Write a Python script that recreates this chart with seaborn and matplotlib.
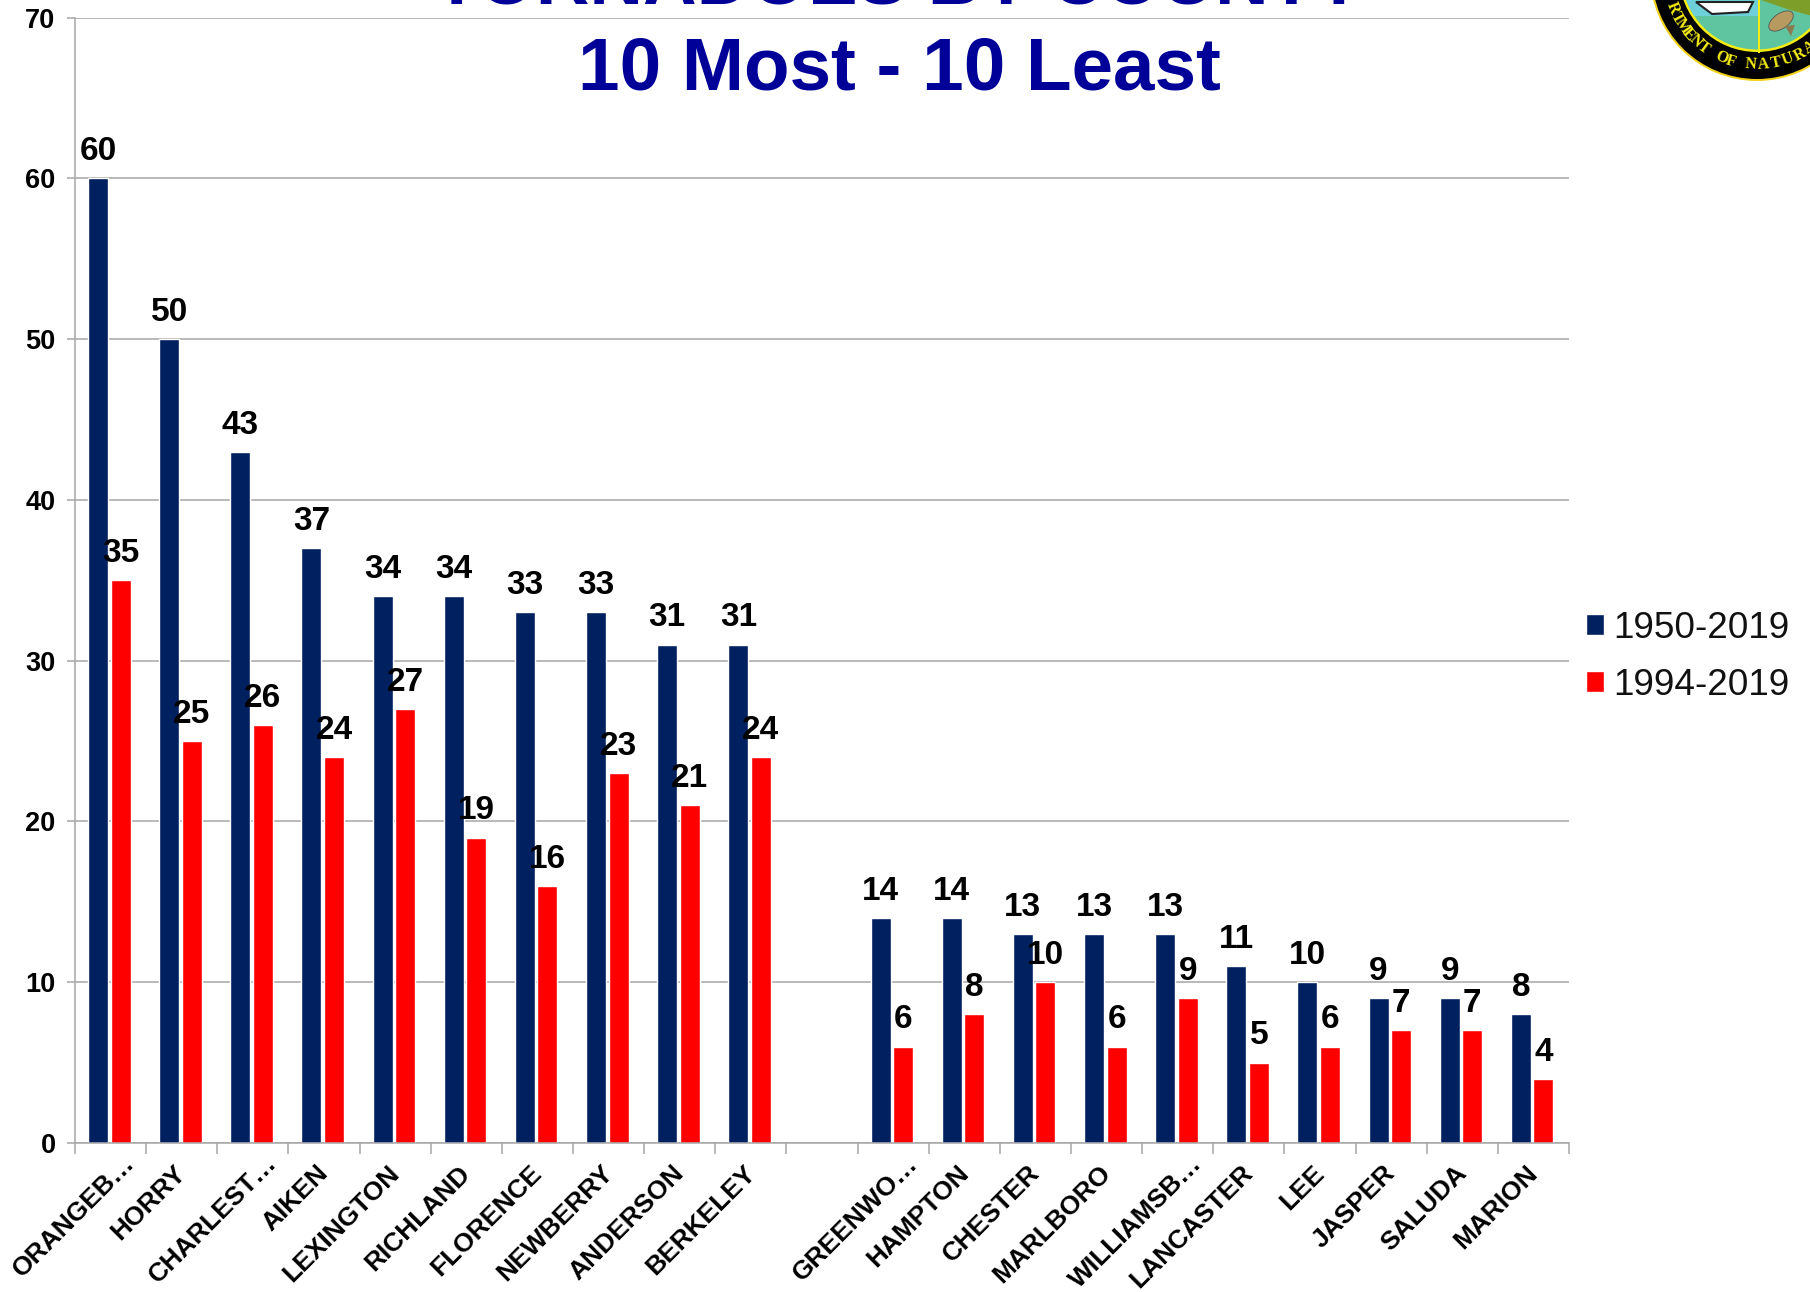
import numpy as np
import pandas as pd
import matplotlib
matplotlib.use("Agg")
import matplotlib.pyplot as plt
from matplotlib.patches import Circle, Ellipse, Polygon, Rectangle
from matplotlib.transforms import ScaledTranslation
import seaborn as sns

counties = ["ORANGEB…", "HORRY", "CHARLEST…", "AIKEN", "LEXINGTON", "RICHLAND", "FLORENCE",
            "NEWBERRY", "ANDERSON", "BERKELEY", " ", "GREENWO…", "HAMPTON", "CHESTER",
            "MARLBORO", "WILLIAMSB…", "LANCASTER", "LEE", "JASPER", "SALUDA", "MARION"]
long_period = [60, 50, 43, 37, 34, 34, 33, 33, 31, 31, np.nan, 14, 14, 13, 13, 13, 11, 10, 9, 9, 8]
short_period = [35, 25, 26, 24, 27, 19, 16, 23, 21, 24, np.nan, 6, 8, 10, 6, 9, 5, 6, 7, 7, 4]
series_names = ["1950-2019", "1994-2019"]
y_ticks = [0, 10, 20, 30, 40, 50, 60, 70]
title_lines = ["TORNADOES BY COUNTY", "10 Most - 10 Least"]
seal_text = "RTMENT OF NATURA"

NAVY = "#002060"
RED = "#FF0000"
GREY = "#A6A6A6"
TITLE = "#000099"

sns.set_theme(style="white")
plt.rcParams["font.family"] = ["Liberation Sans", "DejaVu Sans"]

W, H = 1810, 1292
fig = plt.figure(figsize=(W / 100, H / 100), dpi=100, facecolor="white")
left, right, top, bottom = 75, 1569, 17.5, 1143
ax = fig.add_axes([left / W, 1 - bottom / H, (right - left) / W, (bottom - top) / H])

df = pd.DataFrame({
    "county": counties * 2,
    "count": long_period + short_period,
    "period": [series_names[0]] * len(counties) + [series_names[1]] * len(counties),
})
sns.barplot(data=df, x="county", y="count", hue="period", order=counties, hue_order=series_names,
            palette=[NAVY, RED], width=0.635, gap=0.11, saturation=1, dodge=True, ax=ax,
            legend=True, errorbar=None)

ax.set_xlim(-0.5, len(counties) - 0.5)
ax.set_ylim(0, 70)
ax.set_xlabel("")
ax.set_ylabel("")
ax.set_yticks(y_ticks)
ax.set_axisbelow(True)
ax.grid(axis="y", color=GREY, lw=1.1)
ax.grid(axis="x", visible=False)
for s in ["top", "right"]:
    ax.spines[s].set_visible(False)
for s in ["left", "bottom"]:
    ax.spines[s].set_color(GREY)
    ax.spines[s].set_linewidth(1.1)
ax.tick_params(axis="y", which="major", length=6, width=1.1, color=GREY, pad=8,
               left=True, labelsize=19.5, labelcolor="black")
for t in ax.get_yticklabels():
    t.set_fontweight("bold")

# ticks sit between categories, labels under each category
ax.set_xticks(np.arange(-0.5, len(counties)), minor=True)
ax.tick_params(axis="x", which="minor", length=8, width=1.1, color=GREY, bottom=True)
ax.tick_params(axis="x", which="major", length=0, bottom=False, pad=0)
ax.set_xticks(range(len(counties)))
ax.set_xticklabels(counties, rotation=45, ha="right", va="top", rotation_mode="anchor",
                   fontsize=19, fontweight="bold", color="black")
for lab in ax.get_xticklabels():
    dx, dy = (12, -8) if lab.get_text().endswith("…") else (-8, -18)
    lab.set_transform(lab.get_transform() + ScaledTranslation(dx / 100, dy / 100, fig.dpi_scale_trans))

for container in ax.containers:
    for patch in container:
        patch.set_x(patch.get_x() - 0.018)
    ax.bar_label(container, fmt=lambda v: "" if np.isnan(v) else f"{v:.0f}", padding=8,
                 fontsize=24, fontweight="bold", color="black")

handles, labels = ax.get_legend_handles_labels()
ax.legend_.remove()
fig.legend(handles, labels, loc="center left", bbox_to_anchor=(1586 / W, 1 - 657 / H),
           bbox_transform=fig.transFigure, frameon=False, fontsize=26.6,
           handlelength=0.5, handleheight=0.5, handletextpad=0.24, labelspacing=0.6,
           borderpad=0, borderaxespad=0, labelcolor="#111111")

# overlay in pixel coordinates for the title and the seal
ov = fig.add_axes([0, 0, 1, 1], facecolor="none", zorder=5)
ov.set_xlim(0, W)
ov.set_ylim(H, 0)
ov.axis("off")
ov.text(899, 4, title_lines[0], ha="center", va="baseline", fontsize=53.5, fontweight="bold", color=TITLE)
ov.text(899, 89, title_lines[1], ha="center", va="baseline", fontsize=53.7, fontweight="bold", color=TITLE)

cx, cy = 1757, -26
ov.add_patch(Circle((cx, cy), 107, fc="#F2D21B", ec="none"))
ov.add_patch(Circle((cx, cy), 105, fc="black", ec="none"))
ov.add_patch(Circle((cx, cy), 78, fc="#F5EC14", ec="none"))
inner = Circle((cx, cy), 75.5, fc="#5FC5A0", ec="none")
ov.add_patch(inner)
top_right = Polygon([(1761, 0), (1835, 0), (1835, 22), (1790, 10)], fc="#7E9E2A", ec="none")
ov.add_patch(top_right)
top_right.set_clip_path(inner)
sky = Rectangle((1650, -5), 109, 21, fc="#6DD0D8", ec="none")
ov.add_patch(sky)
sky.set_clip_path(inner)
ov.add_patch(Rectangle((1757.5, -5), 2.5, 58, fc="#F5EC14", ec="none", zorder=3))
ov.add_patch(Polygon([(1696, 2), (1753, 2), (1748, 12), (1712, 14)], fc="white", ec="#222222", lw=1.5))
ov.add_patch(Ellipse((1781, 21), 28, 15, angle=-35, fc="#B79A60", ec="#555555", lw=0.6))
ov.add_patch(Polygon([(1785, 26), (1791, 36), (1795, 25)], fc="#8C7A50", ec="none"))

# seal lettering around the lower arc
n_index = seal_text.index("N", 7)
for i, ch in enumerate(seal_text):
    step = 6.4 if i <= n_index else 8.0
    deg = 94 + (n_index - i) * step
    a = np.radians(deg)
    ov.text(cx + 91 * np.cos(a), cy + 91 * np.sin(a), ch, ha="center", va="center", fontsize=11.5,
            fontweight="bold", color="#F5EC14", family=["Liberation Serif"], rotation=90 - deg,
            rotation_mode="anchor")

fig.savefig("out.png", dpi=100, facecolor="white")
